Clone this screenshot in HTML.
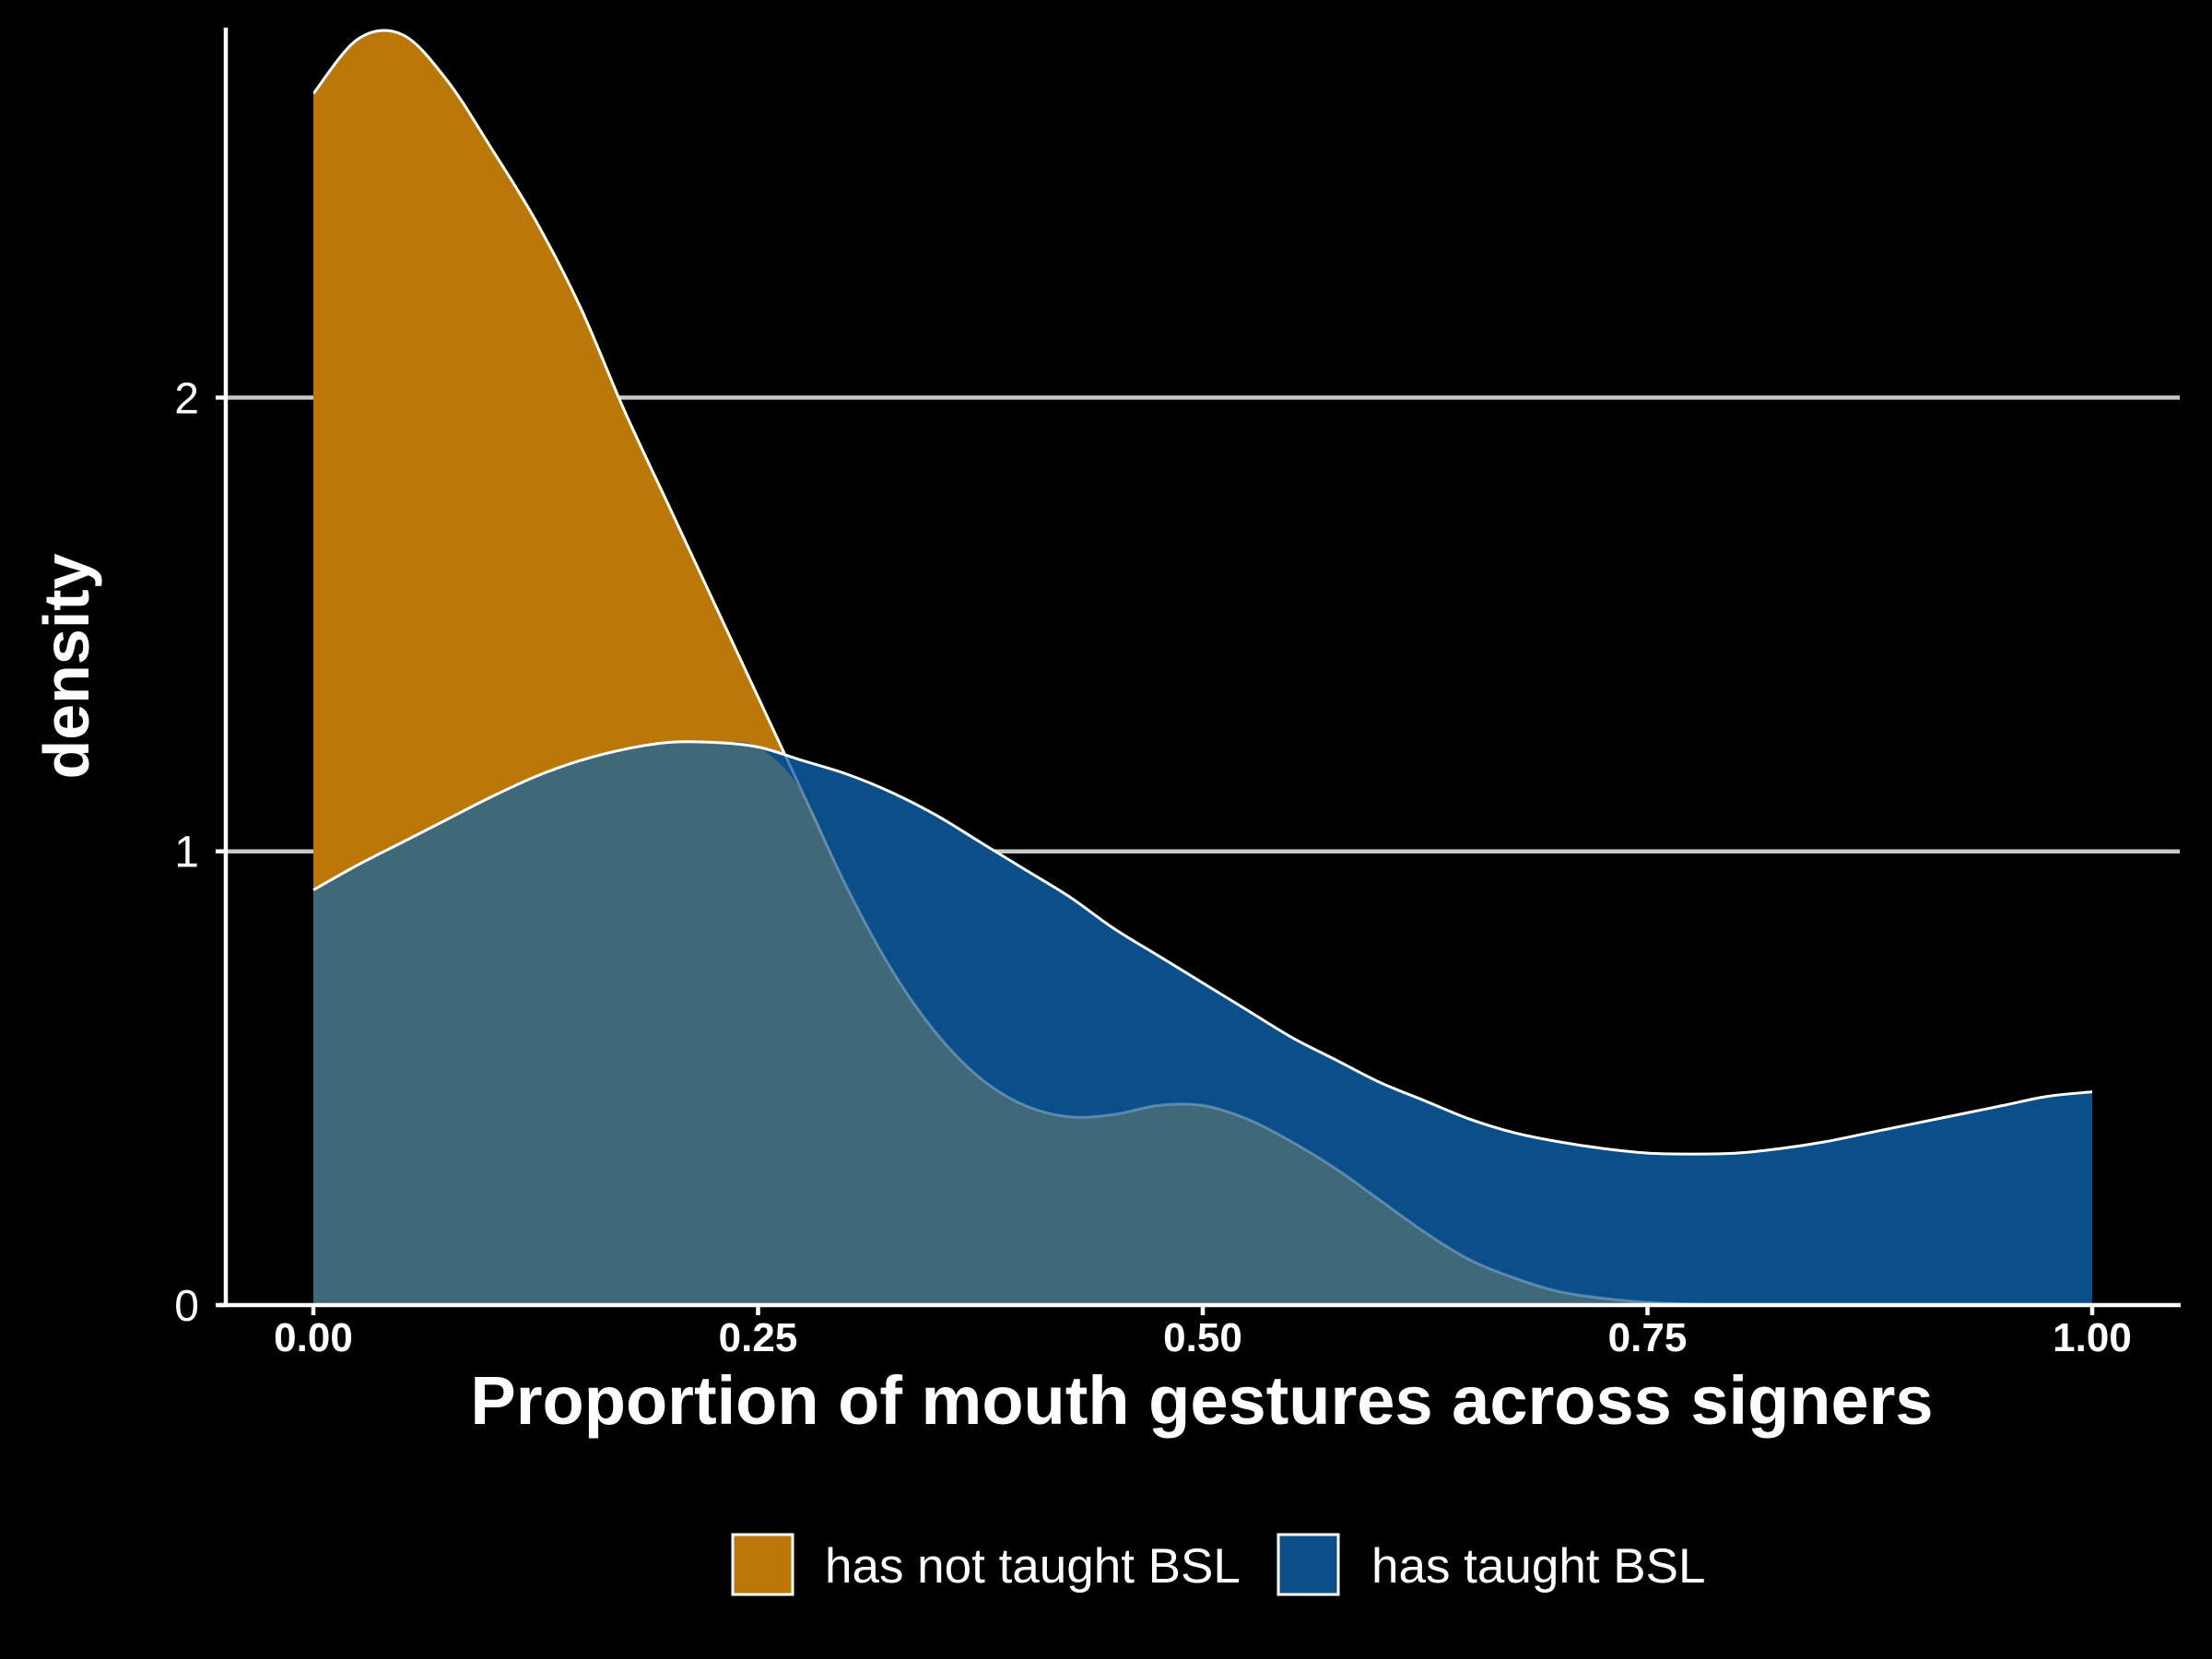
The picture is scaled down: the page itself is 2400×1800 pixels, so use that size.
<!DOCTYPE html>
<html><head><meta charset="utf-8"><style>
html,body{margin:0;padding:0;background:#000;width:2400px;height:1800px;overflow:hidden}
text{font-family:"Liberation Sans",Arial,sans-serif;fill:#fff}
</style></head><body>
<svg id="chart" width="2400" height="1800" viewBox="0 0 2400 1800" xmlns="http://www.w3.org/2000/svg">
<rect width="2400" height="1800" fill="#000"/>
<defs><clipPath id="aboveBlue"><path id="aboveBluePath"/></clipPath></defs>
<g id="grid"></g>
<g id="areas"></g>
<g id="axes"></g>
<text x="1304" y="1545" font-size="74" font-weight="bold" text-anchor="middle">Proportion of mouth gestures across signers</text>
<text transform="translate(96,723) rotate(-90)" font-size="70" font-weight="bold" text-anchor="middle">density</text>
<g>
<rect x="795" y="1665" width="65" height="65" fill="#bb7707" stroke="#fff" stroke-width="3"/>
<text x="895" y="1717" font-size="53">has not taught BSL</text>
<rect x="1387" y="1665" width="65" height="65" fill="#0b4f8a" stroke="#fff" stroke-width="3"/>
<text x="1488" y="1717" font-size="53">has taught BSL</text>
</g>
</svg>
<script>
const xs = [0,0.025,0.05,0.075,0.1,0.125,0.15,0.175,0.2,0.225,0.25,0.275,0.3,0.325,0.35,0.375,0.4,0.425,0.45,0.475,0.5,0.525,0.55,0.575,0.6,0.625,0.65,0.675,0.7,0.725,0.75,0.775,0.8,0.825,0.85,0.875,0.9,0.925,0.95,0.975,1.0];
const notTaught = [2.67,2.79,2.8,2.7,2.55,2.39,2.2,1.97,1.76,1.55,1.34,1.13,0.92,0.74,0.6,0.5,0.44,0.415,0.42,0.44,0.44,0.41,0.36,0.3,0.23,0.16,0.1,0.06,0.03,0.015,0.006,0.002,0,0,0,0,0,0,0,0,0];
const taught = [0.915,0.97,1.02,1.07,1.12,1.165,1.2,1.225,1.24,1.24,1.23,1.2,1.17,1.13,1.08,1.02,0.96,0.9,0.83,0.77,0.71,0.65,0.59,0.54,0.49,0.45,0.41,0.38,0.36,0.345,0.335,0.333,0.335,0.345,0.36,0.38,0.4,0.42,0.44,0.46,0.47];
const xTicks = [0,0.25,0.5,0.75,1.0];
const xTickLabels = ["0.00","0.25","0.50","0.75","1.00"];
const yTicks = [0,1,2];
const yTickLabels = ["0","1","2"];
const NS="http://www.w3.org/2000/svg";
const X0=340, X1=2270, Y0=1416, YU=492.3;
const sx = v => X0 + v*(X1-X0);
const sy = v => Y0 - v*YU;
function mk(tag, attrs, parent){const e=document.createElementNS(NS,tag);for(const k in attrs)e.setAttribute(k,attrs[k]);parent.appendChild(e);return e;}
function curve(vals){
  const p = xs.map((x,i)=>[sx(x),sy(vals[i])]);
  let d = `M${p[0][0]},${p[0][1]}`;
  for(let i=0;i<p.length-1;i++){
    const p0=p[Math.max(0,i-1)],p1=p[i],p2=p[i+1],p3=p[Math.min(p.length-1,i+2)];
    const c1=[p1[0]+(p2[0]-p0[0])/6,p1[1]+(p2[1]-p0[1])/6];
    const c2=[p2[0]-(p3[0]-p1[0])/6,p2[1]-(p3[1]-p1[1])/6];
    d+=` C${c1[0]},${c1[1]} ${c2[0]},${c2[1]} ${p2[0]},${p2[1]}`;
  }
  return d;
}
function area(vals){return curve(vals)+` L${sx(1)},${Y0} L${sx(0)},${Y0} Z`;}
const grid=document.getElementById('grid');
yTicks.forEach(t=>{ if(t>0){
  const l=mk('line',{x1:245,x2:2365,y1:sy(t),y2:sy(t),stroke:'#c8c8c8','stroke-width':4.5},grid);
  
  
}});
const areas=document.getElementById('areas');
const mins = notTaught.map((v,i)=>Math.min(v,taught[i]));
let a=mk('path',{d:area(notTaught),fill:'#bb7707'},areas);


a=mk('path',{d:area(taught),fill:'#0b4f8a'},areas);


a=mk('path',{d:area(mins),fill:'#3f6878'},areas);


document.getElementById('aboveBluePath').setAttribute('d',curve(taught)+` L${sx(1)},0 L${sx(0)},0 Z`);
a=mk('path',{d:curve(notTaught),fill:'none',stroke:'#7fa8d0','stroke-width':3,'stroke-opacity':0.6},areas);


a=mk('path',{d:curve(notTaught),fill:'none',stroke:'#fff','stroke-width':3,'clip-path':'url(#aboveBlue)'},areas);


a=mk('path',{d:curve(taught),fill:'none',stroke:'#fff','stroke-width':3},areas);


const axes=document.getElementById('axes');
let e=mk('line',{x1:245,x2:245,y1:30,y2:Y0,stroke:'#fff','stroke-width':4.5},axes);


e=mk('line',{x1:238,x2:2366,y1:Y0,y2:Y0,stroke:'#fff','stroke-width':4.5},axes);


yTicks.forEach((t,i)=>{
  let tk=mk('line',{x1:234,x2:245,y1:sy(t),y2:sy(t),stroke:'#fff','stroke-width':4.5},axes);
  
  
  let tx=mk('text',{x:216,y:sy(t)+17,'font-size':48,'text-anchor':'end'},axes);
  tx.textContent=yTickLabels[i];
  
  
});
xTicks.forEach((t,i)=>{
  let tk=mk('line',{x1:sx(t),x2:sx(t),y1:Y0,y2:Y0+11,stroke:'#fff','stroke-width':4.5},axes);
  
  
  let tx=mk('text',{x:sx(t),y:1466,'font-size':44,'font-weight':'bold','text-anchor':'middle'},axes);
  tx.textContent=xTickLabels[i];
  
  
});
</script>
</body></html>
